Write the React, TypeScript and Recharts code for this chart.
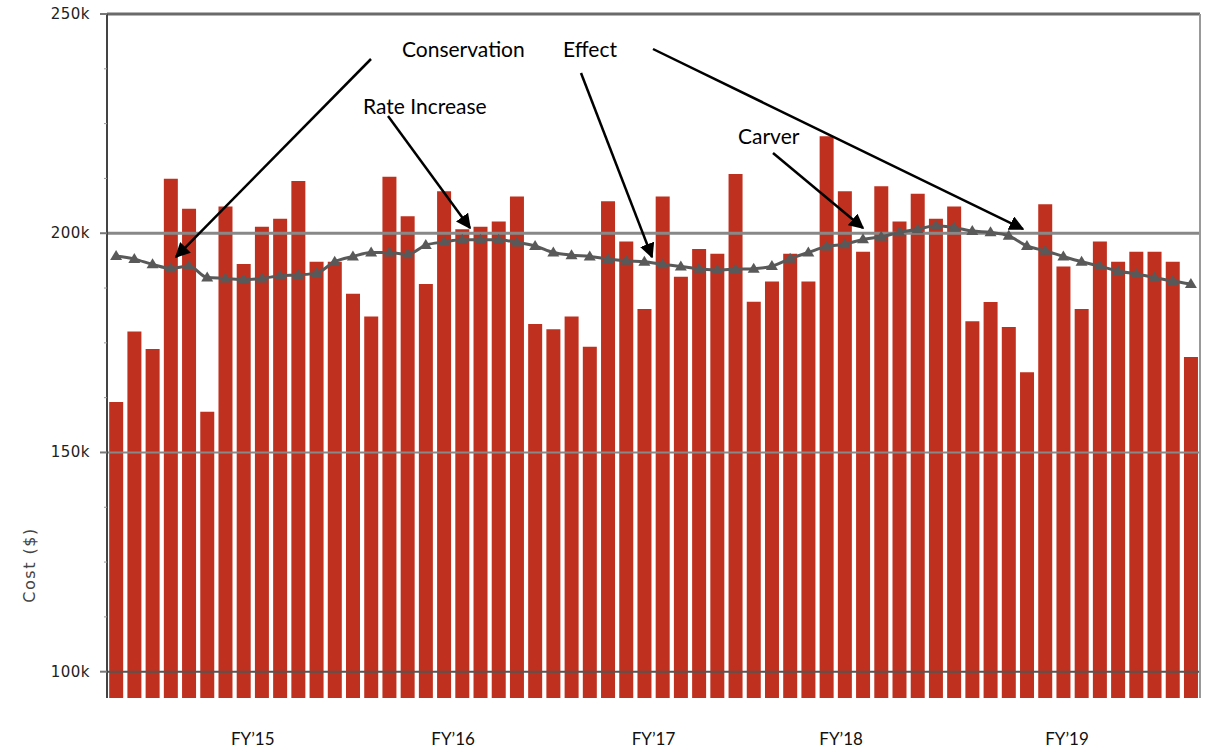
import { ComposedChart, Bar, Line, XAxis, YAxis, ReferenceLine, Label } from "recharts";

// monthly cost, FY15 - FY19 (thousands of $)
const fiscalYears = ["15", "16", "17", "18", "19"];
const monthNames = ["Jul", "Aug", "Sep", "Oct", "Nov", "Dec", "Jan", "Feb", "Mar", "Apr", "May", "Jun"];

const costK = [
  161.5, 177.6, 173.6, 212.4, 205.6, 159.3, 206.1, 193.0, 201.5, 203.3, 211.9, 193.5,
  193.5, 186.2, 181.0, 212.9, 203.9, 188.4, 209.6, 200.9, 201.5, 202.7, 208.4, 179.3,
  178.1, 181.0, 174.1, 207.3, 198.1, 182.7, 208.4, 190.1, 196.4, 195.3, 213.5, 184.4,
  189.0, 195.3, 189.0, 222.1, 209.6, 195.8, 210.7, 202.7, 209.0, 203.3, 206.1, 179.9,
  184.3, 178.6, 168.3, 206.6, 192.4, 182.7, 198.1, 193.5, 195.8, 195.8, 193.5, 171.8,
];

const trendK = [
  194.8, 194.1, 192.9, 192.0, 192.5, 189.9, 189.7, 189.4, 189.7, 190.3, 190.5, 190.9,
  193.5, 194.7, 195.6, 195.6, 195.2, 197.3, 198.0, 198.5, 198.5, 198.5, 197.9, 197.1,
  195.6, 195.0, 194.7, 194.1, 193.7, 193.5, 192.9, 192.4, 191.9, 191.6, 191.8, 191.9,
  192.5, 194.2, 195.6, 197.0, 197.5, 198.6, 199.2, 200.2, 200.9, 201.7, 201.3, 200.5,
  200.2, 199.4, 197.1, 196.0, 194.7, 193.5, 192.5, 191.4, 190.7, 189.9, 189.1, 188.4,
];

const yTicks = [100000, 112500, 125000, 137500, 150000, 162500, 175000, 187500, 200000, 212500, 225000, 237500, 250000];

// FY labels sit on a numeric month axis running 0..60
const fyTicks = [8, 19, 30, 40.3, 52.7];
const fyLabels = ["FY\u201915", "FY\u201916", "FY\u201917", "FY\u201918", "FY\u201919"];

const data = costK.map((c, i) => ({
  month: `${monthNames[i % 12]} FY${fiscalYears[Math.floor(i / 12)]}`,
  m: i + 0.5,
  cost: c * 1000,
  trend: trendK[i] * 1000,
}));

const notes = [
  { text: "Conservation", x: 402, y: 57 },
  { text: "Effect", x: 563, y: 57 },
  { text: "Rate Increase", x: 363, y: 114 },
  { text: "Carver", x: 738, y: 144 },
];

const arrows = [
  [371, 59, 176, 257],
  [388, 116, 470, 228],
  [581, 73, 652, 257],
  [653, 49, 1023, 229],
  [773, 153, 863, 228],
];

const YTick = (props: any) => {
  const { x, y, payload } = props;
  const major = payload.value % 50000 === 0;
  return (
    <g>
      <line x1={x + (major ? 10 : 14)} x2={x + 17} y1={y} y2={y} stroke={major ? "#777" : "#999"} strokeWidth={major ? 2 : 1} />
      {major && (
        <text x={x} y={y} dy={5} textAnchor="end" fontFamily="DejaVu Sans" fontSize={15} letterSpacing={0.5} fill="#222">
          {payload.value / 1000}k
        </text>
      )}
    </g>
  );
};

const FyTick = (props: any) => {
  const { x, payload } = props;
  // labels hang just above the bottom edge of the chart
  return (
    <text x={x} y={745} textAnchor="middle" fontFamily="Lato" fontSize={17} fill="#111">
      {fyLabels[fyTicks.indexOf(payload.value)]}
    </text>
  );
};

const Triangle = (props: any) => {
  const { cx, cy, index } = props;
  if (cx == null || cy == null) return null;
  return <path key={index} d={`M${cx},${cy - 6} L${cx + 6},${cy + 4} L${cx - 6},${cy + 4} Z`} fill="#595959" />;
};

const App = () => {
  return (
    <div style={{ position: "relative", width: 1216, height: 749, background: "#fff" }}>
      <style>{`body{margin:0}`}</style>
      <ComposedChart width={1216} height={749} data={data} margin={{ top: 14, right: 16, bottom: 0, left: 0 }} barCategoryGap="12%">
        <XAxis xAxisId="cat" dataKey="month" hide />
        <XAxis
          xAxisId="fy"
          dataKey="m"
          type="number"
          domain={[0, 60]}
          allowDataOverflow
          ticks={fyTicks}
          interval={0}
          axisLine={false}
          tickLine={false}
          height={51}
          tick={<FyTick />}
        />
        <YAxis
          domain={[94000, 250000]}
          ticks={yTicks}
          interval={0}
          width={107}
          tickSize={7}
          tickMargin={10}
          tickLine={false}
          tick={<YTick />}
          axisLine={{ stroke: "#444", strokeWidth: 2 }}
          allowDataOverflow
        >
          <Label
            content={() => (
              <text x={35} y={565} transform="rotate(-90 35 565)" textAnchor="middle" fontFamily="DejaVu Sans" fontSize={16} letterSpacing={1.5} fill="#444">
                Cost ($)
              </text>
            )}
          />
        </YAxis>
        <Bar xAxisId="cat" dataKey="cost" fill="#C0301F" isAnimationActive={false} />
        <ReferenceLine xAxisId="cat" y={100000} stroke="#555" strokeWidth={2} />
        <ReferenceLine xAxisId="cat" y={150000} stroke="#888" strokeWidth={2} />
        <ReferenceLine xAxisId="cat" y={200000} stroke="#888" strokeWidth={3} />
        <ReferenceLine xAxisId="cat" y={250000} stroke="#6a6a6a" strokeWidth={3} />
        <ReferenceLine xAxisId="fy" x={60} stroke="#999" strokeWidth={2} ifOverflow="visible" />
        <Line
          xAxisId="cat"
          dataKey="trend"
          type="monotone"
          stroke="#595959"
          strokeWidth={3}
          dot={Triangle}
          activeDot={false}
          isAnimationActive={false}
        />
      </ComposedChart>
      <svg width={1216} height={749} style={{ position: "absolute", left: 0, top: 0, pointerEvents: "none" }}>
        <defs>
          <marker id="head" viewBox="0 0 10 10" refX="9" refY="5" markerWidth="6" markerHeight="6" orient="auto">
            <path d="M0,0 L10,5 L0,10 Z" fill="#000" />
          </marker>
        </defs>
        {arrows.map(([x1, y1, x2, y2], i) => (
          <line key={i} x1={x1} y1={y1} x2={x2} y2={y2} stroke="#000" strokeWidth={2.5} markerEnd="url(#head)" />
        ))}
        {notes.map((n) => (
          <text key={n.text} x={n.x} y={n.y} fontFamily="Lato" fontSize={21} fill="#000">
            {n.text}
          </text>
        ))}
      </svg>
    </div>
  );
};

export default App;
